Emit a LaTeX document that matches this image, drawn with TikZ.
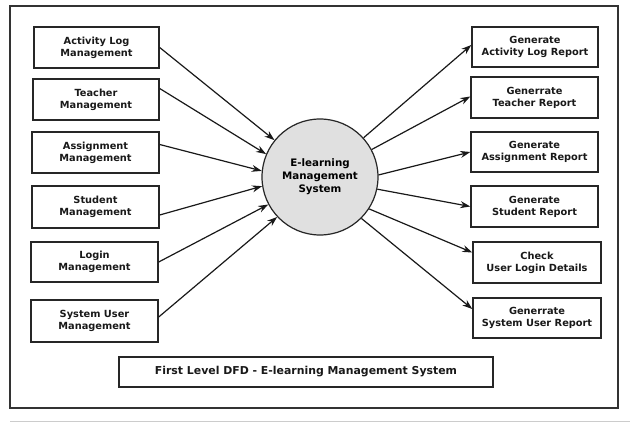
\documentclass[tikz,border=0pt]{standalone}
\usepackage{fontspec}
\setmainfont{DejaVu Sans}
\usetikzlibrary{arrows.meta}
\begin{document}
\begin{tikzpicture}[x=1pt,y=-1pt,
  box/.style={draw=black!85,line width=1.4pt,fill=white,inner sep=0pt,align=center,
    font=\fontsize{9.8}{12}\selectfont\bfseries,text=black!90},
  flow/.style={line width=1.2pt,black!90,-{Stealth[length=10pt,width=7pt]}},
  proc/.style={circle,draw=black!85,line width=1.2pt,fill=black!12,minimum size=116pt,inner sep=0pt,align=center,
    font=\fontsize{10.3}{13}\selectfont\bfseries}]
\useasboundingbox (0,0) rectangle (630,423);
\draw[black!80,line width=1.2pt] (10,6) rectangle (618,408);
\draw[black!20,line width=1pt] (10,421) -- (630,421);
% left boxes
\node[box,minimum width=125pt,minimum height=41pt] (al) at (96.5,47.5) {Activity Log\\Management};
\node[box,minimum width=126pt,minimum height=41pt] (tm) at (96,99.5) {Teacher\\Management};
\node[box,minimum width=127pt,minimum height=41pt] (am) at (95.5,152.5) {Assignment\\Management};
\node[box,minimum width=127pt,minimum height=42pt] (sm) at (95.5,207) {Student\\Management};
\node[box,minimum width=127pt,minimum height=40pt] (lm) at (94.5,262) {Login\\Management};
\node[box,minimum width=127pt,minimum height=42pt] (su) at (94.5,321) {System User\\Management};
% right boxes
\node[box,minimum width=126pt,minimum height=40pt] (ral) at (535,47) {Generate\\Activity Log Report};
\node[box,minimum width=127pt,minimum height=41pt] (rtm) at (534.5,97.5) {Generrate\\Teacher Report};
\node[box,minimum width=127pt,minimum height=40pt] (ram) at (534.5,152) {Generate\\Assignment Report};
\node[box,minimum width=127pt,minimum height=41pt] (rsm) at (534.5,206.5) {Generate\\Student Report};
\node[box,minimum width=128pt,minimum height=41pt] (rlm) at (537,262.5) {Check\\User Login Details};
\node[box,minimum width=128pt,minimum height=40pt] (rsu) at (537,318) {Generrate\\System User Report};
% process
\node[proc] (p) at (320,177) {E-learning\\Management\\System};
% title
\node[box,minimum width=374pt,minimum height=30pt,font=\fontsize{10.9}{12}\selectfont\bfseries] (t) at (306,372) {First Level DFD - E-learning Management System};
% flows in
\draw[flow] (al.east) -- (p.141);
\draw[flow] ([yshift=11pt]tm.east) -- (p.157);
\draw[flow] ([yshift=8pt]am.east) -- (p.174);
\draw[flow] ([yshift=-8pt]sm.east) -- (p.189);
\draw[flow] (lm.east) -- (p.208);
\draw[flow] ([yshift=4pt]su.east) -- (p.223);
% flows out
\draw[flow] (p.42) -- ([yshift=2pt]ral.west);
\draw[flow] (p.28) -- ([yshift=1pt]rtm.west);
\draw[flow] (p.2) -- (ram.west);
\draw[flow] (p.-12) -- (rsm.west);
\draw[flow] (p.-33) -- ([yshift=10pt]rlm.west);
\draw[flow] (p.-45) -- ([yshift=9pt]rsu.west);
\end{tikzpicture}
\end{document}
